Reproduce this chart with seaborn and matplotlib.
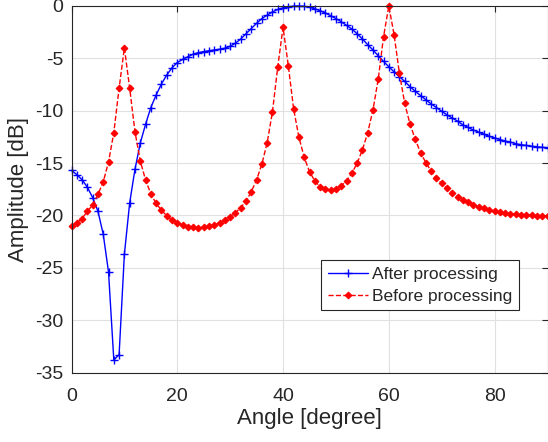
import numpy as np
import pandas as pd
import matplotlib
matplotlib.use("Agg")
import matplotlib.pyplot as plt
import seaborn as sns

angles = list(range(0, 91))

after_db = [
    -15.7, -16.1, -16.6, -17.3, -18.3, -19.6, -21.8, -25.4, -33.8, -33.3,
    -23.7, -18.8, -15.6, -13.1, -11.3, -9.7, -8.5, -7.45, -6.6, -5.9,
    -5.4, -5.1, -4.85, -4.6, -4.45, -4.35, -4.27, -4.2, -4.13, -4.03,
    -3.85, -3.55, -3.15, -2.65, -2.15, -1.65, -1.2, -0.87, -0.56, -0.33,
    -0.17, -0.07, -0.01, 0.0, -0.03, -0.12, -0.27, -0.45, -0.67, -0.92,
    -1.2, -1.5, -1.85, -2.2, -2.65, -3.15, -3.7, -4.2, -4.75, -5.3,
    -5.8, -6.3, -6.75, -7.2, -7.7, -8.15, -8.55, -8.95, -9.35, -9.7,
    -10.05, -10.4, -10.7, -11.0, -11.35, -11.6, -11.85, -12.05, -12.25, -12.45,
    -12.6, -12.75, -12.9, -13.0, -13.15, -13.25, -13.32, -13.4, -13.45, -13.5,
    -13.52,
]

before_db = [
    -21.0, -20.7, -20.3, -19.6, -19.0, -18.0, -16.8, -14.9, -12.1, -7.85,
    -4.0, -7.85, -12.0, -14.8, -16.6, -17.95, -18.85, -19.5, -20.03, -20.44,
    -20.7, -20.9, -21.08, -21.14, -21.17, -21.14, -21.04, -20.9, -20.7, -20.44,
    -20.12, -19.74, -19.26, -18.62, -17.73, -16.6, -15.09, -13.05, -10.09, -5.79,
    -2.04, -5.73, -9.84, -12.54, -14.45, -15.83, -16.69, -17.26, -17.51, -17.57,
    -17.51, -17.19, -16.69, -15.98, -15.02, -13.75, -12.1, -9.93, -6.97, -2.93,
    0.0, -2.77, -6.43, -9.29, -11.27, -12.73, -14.01, -14.96, -15.76, -16.46,
    -16.93, -17.41, -17.83, -18.21, -18.53, -18.75, -18.98, -19.17, -19.32, -19.48,
    -19.58, -19.67, -19.77, -19.83, -19.9, -19.96, -20.0, -20.0, -20.04, -20.05,
    -20.05,
]

x_ticks = [0, 20, 40, 60, 80]
y_ticks = [0, -5, -10, -15, -20, -25, -30, -35]
label_after = "After processing"
label_before = "Before processing"

sns.set_style("whitegrid")
plt.rcParams["font.family"] = ["Liberation Sans", "DejaVu Sans"]
plt.rcParams["axes.unicode_minus"] = False

fig = plt.figure(figsize=(5.48, 4.42), dpi=100)
ax = fig.add_axes([71.5 / 548, 69.5 / 442, (547.5 - 71.5) / 548, 366.5 / 442])

df_after = pd.DataFrame({"angle": angles, "amp": after_db})
df_before = pd.DataFrame({"angle": angles, "amp": before_db})

sns.lineplot(data=df_after, x="angle", y="amp", ax=ax, color="#0000ff",
             linestyle="-", linewidth=1.0, marker="+", markersize=5.5,
             markeredgewidth=1.0, markeredgecolor="#0000ff",
             label=label_after, clip_on=False)
sns.lineplot(data=df_before, x="angle", y="amp", ax=ax, color="#ff0000",
             linestyle="--", linewidth=1.0, marker="D", markersize=3.4,
             markeredgewidth=0.8, markeredgecolor="#ff0000",
             markerfacecolor="#ff0000", dashes=(4, 2.5),
             label=label_before, clip_on=False)

ax.set_xlim(0, 90)
ax.set_ylim(-35, 0)
ax.set_xticks(x_ticks)
ax.set_yticks(y_ticks)
ax.grid(True, color="#e0e0e0", linewidth=0.8)
for s in ax.spines.values():
    s.set_visible(True)
    s.set_color("#262626")
    s.set_linewidth(0.8)
ax.tick_params(direction="in", top=True, right=True, length=4, width=0.8,
               colors="#262626", labelsize=14, labelcolor="#262626")
ax.tick_params(axis="x", pad=11)
ax.tick_params(axis="y", pad=6)
ax.set_xlabel("Angle [degree]", fontsize=16, color="#262626", labelpad=2)
ax.set_ylabel("Amplitude [dB]", fontsize=16, color="#262626", labelpad=4)

leg = ax.legend(loc="lower right", bbox_to_anchor=(0.94, 0.17), fontsize=12.5,
                frameon=True, fancybox=False, framealpha=1, edgecolor="#262626",
                numpoints=1, handlelength=2.3, handletextpad=0.25,
                borderpad=0.38, labelspacing=0.38, borderaxespad=0)
leg.get_frame().set_linewidth(0.8)

fig.savefig("out.png", dpi=100)
